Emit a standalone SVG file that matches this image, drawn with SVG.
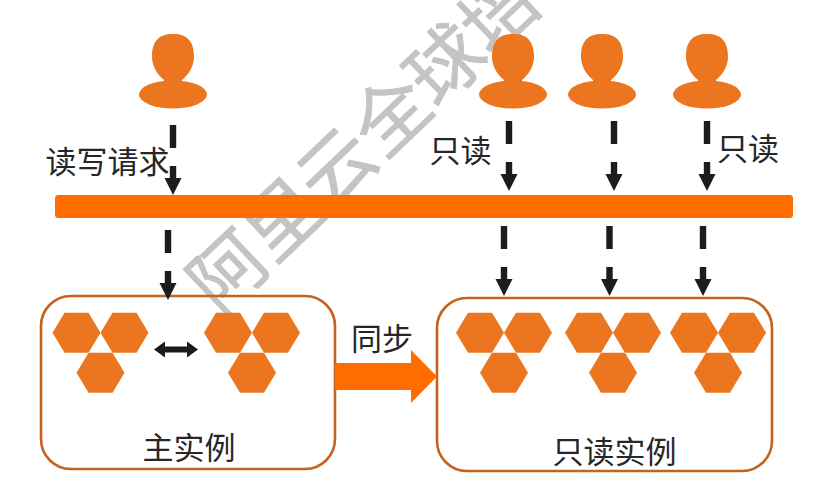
<svg xmlns="http://www.w3.org/2000/svg" width="823" height="491" viewBox="0 0 823 491">
  <style>
    .label { font-family: "Liberation Sans", "Noto Sans CJK SC", sans-serif; font-size: 31px; fill: #262626; }
    .mark { font-family: "Noto Sans CJK SC", sans-serif; font-size: 75px; fill: #c4c4c4; stroke: #c4c4c4; stroke-width: 0.9; }
    .box { fill: none; stroke: #c5621b; stroke-width: 2.6; }
    .user, .hex { fill: #ec761f; }
    .flow { fill: #ff6d00; }
    .arrow { fill: #1c1c1c; }
  </style>
  <defs>
    <g id="person">
      <path d="M0,0 C15,0 21,8 21,23 C21,33 15,41 9,46 L9,50 L-9,50 L-9,46 C-15,41 -21,33 -21,23 C-21,8 -15,0 0,0 Z"/>
      <ellipse cx="0" cy="60.5" rx="34" ry="14"/>
    </g>
    <polygon id="hexagon" points="-24,0 -12,-20 12,-20 24,0 12,20 -12,20"/>
    <g id="trio">
      <use href="#hexagon" x="-24" y="0"/>
      <use href="#hexagon" x="24" y="0"/>
      <use href="#hexagon" x="0" y="40"/>
    </g>
    <!-- Dashed down arrow; the origin is its top, the tip lies 70 below -->
    <g id="down">
      <rect x="-3.2" y="0" width="6.4" height="23"/>
      <rect x="-3.2" y="41" width="6.4" height="14"/>
      <polygon points="-8.5,53 8.5,53 0,70"/>
    </g>
  </defs>
  <rect width="823" height="491" fill="#ffffff"/>

  <g id="user-write" class="user"><use href="#person" x="173" y="34"/></g>
  <g id="user-read-2" class="user"><use href="#person" x="602" y="34"/></g>
  <g id="user-read-3" class="user"><use href="#person" x="707" y="34"/></g>

  <!-- Diagonal watermark, drawn below the boxes, the bus and the nearest user -->
  <g id="watermark">
    <text class="mark" text-anchor="middle" transform="translate(247,291) rotate(-43.6)">阿</text>
    <text class="mark" text-anchor="middle" transform="translate(301,239) rotate(-43.6)">里</text>
    <text class="mark" text-anchor="middle" transform="translate(355,187) rotate(-43.6)">云</text>
    <text class="mark" text-anchor="middle" transform="translate(410,135) rotate(-43.6)">全</text>
    <text class="mark" text-anchor="middle" transform="translate(464,84) rotate(-43.6)">球</text>
    <text class="mark" text-anchor="middle" transform="translate(518,32) rotate(-43.6)">培</text>
    <text class="mark" text-anchor="middle" transform="translate(572,-20) rotate(-43.6)">训</text>
  </g>

  <g id="user-read-1" class="user"><use href="#person" x="513" y="34"/></g>

  <g id="bus"><rect class="flow" x="55" y="195" width="738" height="23" rx="3.5"/></g>

  <g id="primary">
    <rect class="box" x="41" y="296" width="294" height="173" rx="30"/>
    <g class="hex"><use href="#trio" x="100.5" y="332.7"/><use href="#trio" x="252" y="332.7"/></g>
    <polygon class="arrow" points="154,349.500 165,341.500 165,346.500 187,346.500 187,341.500 198,349.500 187,357.500 187,352.500 165,352.500 165,357.500"/>
    <text class="label" x="189" y="459" text-anchor="middle">主实例</text>
  </g>

  <g id="replica">
    <rect class="box" x="437" y="298" width="335" height="173" rx="30"/>
    <g class="hex"><use href="#trio" x="504" y="332.7"/><use href="#trio" x="613" y="332.7"/><use href="#trio" x="718" y="332.7"/></g>
    <text class="label" x="614.5" y="463" text-anchor="middle">只读实例</text>
  </g>

  <g id="connectors">
    <g class="arrow">
      <use href="#down" x="173" y="125"/>
      <use href="#down" x="509" y="121"/>
      <use href="#down" x="614" y="121"/>
      <use href="#down" x="707" y="121"/>
      <use href="#down" x="168" y="230"/>
      <use href="#down" x="504" y="226"/>
      <use href="#down" x="609.5" y="226"/>
      <use href="#down" x="703" y="226"/>
    </g>
    <polygon class="flow" points="335,363 411,363 411,350 437,376.500 411,403 411,390 335,390"/>
  </g>

  <g id="labels">
    <text class="label" x="45.500" y="173">读写请求</text>
    <text class="label" x="429.500" y="162">只读</text>
    <text class="label" x="717" y="160">只读</text>
    <text class="label" x="351" y="350">同步</text>
  </g>
</svg>
